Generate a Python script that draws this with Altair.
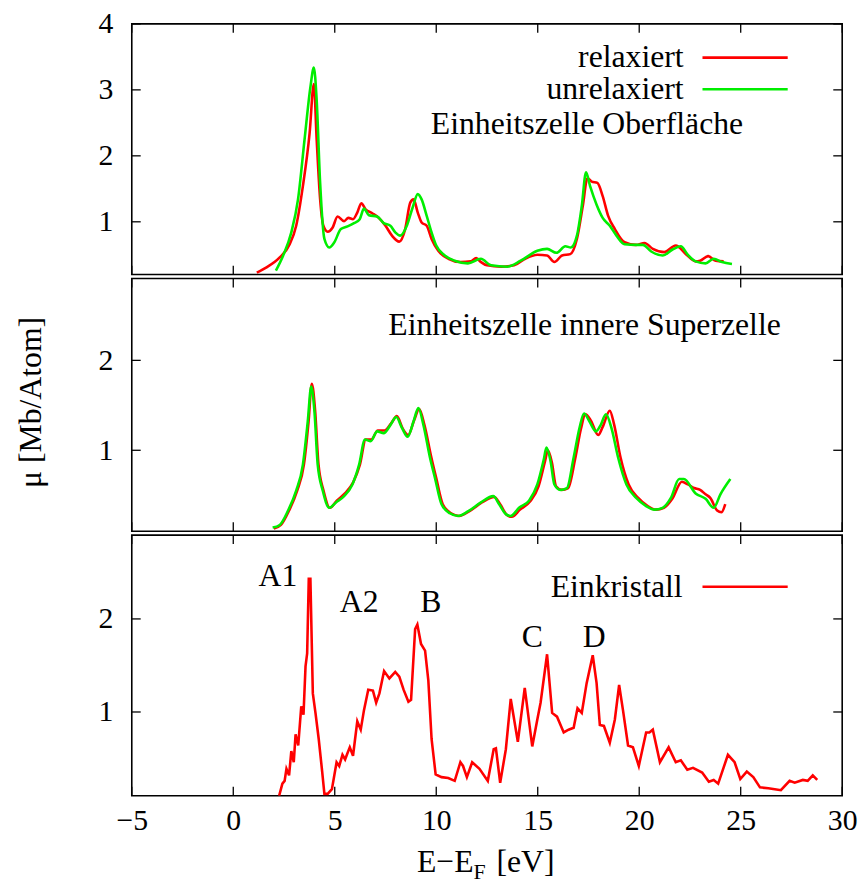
import altair as alt
import pandas as pd

# ---------------- data ----------------
X_TICKS = [-5, 0, 5, 10, 15, 20, 25, 30]
P1_Y_TICKS = [1, 2, 3, 4]
P2_Y_TICKS = [1, 2]
P3_Y_TICKS = [1, 2]

# panel 1: Einheitszelle Oberfläche  (E-E_F [eV], mu)
P1_RELAX = [
    (1.16, 0.23), (1.64, 0.31), (2.29, 0.46), (2.78, 0.66), (3.1, 0.94), (3.43, 1.54),
    (3.76, 2.34), (3.97, 3.09), (4.11, 2.24), (4.28, 1.34), (4.44, 0.94), (4.65, 0.85),
    (4.89, 0.91), (5.14, 1.08), (5.46, 1.01), (5.67, 1.06), (5.9, 1.04), (6.11, 1.14),
    (6.31, 1.28), (6.52, 1.19), (6.85, 1.13), (7.17, 1.06), (7.5, 0.94), (7.82, 0.79),
    (8.18, 0.70), (8.47, 0.89), (8.72, 1.29), (8.88, 1.34), (9.09, 1.14), (9.28, 0.99),
    (9.53, 0.94), (9.77, 0.74), (10.1, 0.56), (10.6, 0.44), (11.2, 0.39), (11.7, 0.40),
    (11.97, 0.45), (12.2, 0.39), (12.5, 0.34), (13.2, 0.32), (13.84, 0.34), (14.33, 0.43),
    (14.98, 0.50), (15.46, 0.49), (15.82, 0.39), (16.2, 0.49), (16.6, 0.51), (16.93, 0.74),
    (17.22, 1.24), (17.45, 1.66), (17.66, 1.61), (17.94, 1.59), (18.2, 1.39), (18.47, 1.09),
    (18.8, 0.89), (19.28, 0.69), (19.85, 0.65), (20.26, 0.68), (20.67, 0.59), (21.23, 0.54),
    (21.8, 0.64), (22.3, 0.51), (22.78, 0.40), (23.0, 0.41), (23.4, 0.48), (23.76, 0.41),
    (24.16, 0.40),
]
P1_UNRELAX = [
    (2.1, 0.26), (2.46, 0.49), (2.86, 0.84), (3.19, 1.34), (3.51, 2.24), (3.8, 3.04),
    (3.97, 3.34), (4.11, 2.84), (4.28, 1.59), (4.49, 0.74), (4.73, 0.61), (4.98, 0.69),
    (5.3, 0.89), (5.63, 0.93), (5.95, 0.98), (6.23, 1.04), (6.44, 1.20), (6.68, 1.10),
    (7.09, 1.08), (7.41, 0.98), (7.74, 0.94), (7.98, 0.84), (8.23, 0.79), (8.55, 0.94),
    (8.83, 1.21), (9.09, 1.42), (9.28, 1.34), (9.53, 1.09), (9.77, 0.84), (10.0, 0.64),
    (10.42, 0.49), (10.91, 0.41), (11.56, 0.37), (12.2, 0.44), (12.7, 0.34), (13.5, 0.32),
    (14.16, 0.41), (14.98, 0.56), (15.46, 0.59), (15.92, 0.53), (16.36, 0.63), (16.63, 0.61),
    (16.93, 0.79), (17.17, 1.24), (17.38, 1.75), (17.58, 1.54), (17.9, 1.26), (18.2, 1.06),
    (18.55, 0.94), (18.88, 0.79), (19.28, 0.66), (19.85, 0.65), (20.18, 0.65), (20.59, 0.55),
    (21.16, 0.49), (21.64, 0.58), (22.05, 0.63), (22.37, 0.51), (22.78, 0.40), (23.27, 0.37),
    (23.67, 0.44), (24.08, 0.39), (24.57, 0.36),
]

# panel 2: Einheitszelle innere Superzelle
P2_RELAX = [
    (2.0, 0.13), (2.35, 0.17), (2.75, 0.33), (3.15, 0.55), (3.48, 0.84), (3.71, 1.32),
    (3.87, 1.74), (4.03, 1.45), (4.2, 0.84), (4.45, 0.55), (4.76, 0.36), (5.1, 0.44),
    (5.5, 0.52), (5.9, 0.64), (6.24, 0.84), (6.53, 1.12), (6.8, 1.12), (7.12, 1.22),
    (7.45, 1.22), (7.78, 1.30), (8.06, 1.38), (8.35, 1.24), (8.62, 1.17), (8.92, 1.34),
    (9.16, 1.46), (9.42, 1.28), (9.74, 0.94), (10.0, 0.69), (10.32, 0.40), (10.73, 0.30),
    (11.13, 0.27), (11.62, 0.32), (12.25, 0.42), (12.86, 0.48), (13.15, 0.40), (13.48, 0.28),
    (13.72, 0.26), (14.13, 0.34), (14.62, 0.43), (15.04, 0.60), (15.36, 0.88), (15.5, 1.00),
    (15.7, 0.86), (15.9, 0.60), (16.18, 0.56), (16.5, 0.58), (16.84, 0.90), (17.13, 1.24),
    (17.35, 1.40), (17.62, 1.33), (17.98, 1.17), (18.2, 1.26), (18.55, 1.44), (18.75, 1.30),
    (19.08, 0.92), (19.48, 0.62), (19.95, 0.47), (20.42, 0.38), (20.82, 0.34), (21.22, 0.36),
    (21.63, 0.46), (22.1, 0.65), (22.4, 0.62), (22.7, 0.58), (23.0, 0.56), (23.27, 0.51),
    (23.5, 0.47), (23.84, 0.33), (24.05, 0.31), (24.24, 0.40),
]
P2_UNRELAX = [
    (1.94, 0.14), (2.29, 0.17), (2.7, 0.33), (3.1, 0.55), (3.43, 0.84), (3.67, 1.32),
    (3.84, 1.71), (4.0, 1.43), (4.16, 0.84), (4.41, 0.55), (4.73, 0.36), (5.06, 0.42),
    (5.46, 0.49), (5.87, 0.62), (6.2, 0.84), (6.49, 1.12), (6.77, 1.10), (7.09, 1.21),
    (7.41, 1.19), (7.74, 1.28), (8.03, 1.37), (8.31, 1.25), (8.59, 1.15), (8.88, 1.32),
    (9.12, 1.47), (9.37, 1.28), (9.69, 0.92), (9.94, 0.69), (10.26, 0.40), (10.67, 0.30),
    (11.07, 0.27), (11.56, 0.32), (12.2, 0.42), (12.81, 0.49), (13.1, 0.40), (13.43, 0.29),
    (13.67, 0.27), (14.08, 0.36), (14.57, 0.44), (14.98, 0.62), (15.3, 0.90), (15.43, 1.03),
    (15.63, 0.88), (15.82, 0.62), (16.11, 0.56), (16.44, 0.58), (16.77, 0.92), (17.06, 1.25),
    (17.28, 1.41), (17.55, 1.32), (17.87, 1.21), (18.1, 1.28), (18.36, 1.40), (18.63, 1.25),
    (18.96, 0.92), (19.37, 0.62), (19.85, 0.47), (20.34, 0.38), (20.75, 0.34), (21.15, 0.36),
    (21.56, 0.47), (21.97, 0.68), (22.2, 0.68), (22.78, 0.52), (23.27, 0.46), (23.67, 0.36),
    (24.0, 0.51), (24.49, 0.68),
]

# panel 3: Einkristall
P3_CRYSTAL = [
    (2.26, 0.10), (2.42, 0.23), (2.53, 0.26), (2.62, 0.39), (2.75, 0.32), (2.86, 0.58),
    (2.98, 0.46), (3.07, 0.76), (3.2, 0.64), (3.35, 1.06), (3.46, 0.97), (3.56, 1.49),
    (3.64, 1.63), (3.72, 2.43), (3.8, 2.43), (3.92, 1.20), (4.05, 0.99), (4.21, 0.71),
    (4.38, 0.36), (4.49, 0.12), (4.65, 0.12), (4.86, 0.17), (5.09, 0.46), (5.22, 0.42),
    (5.38, 0.54), (5.51, 0.49), (5.63, 0.56), (5.74, 0.62), (5.9, 0.53), (6.11, 0.90),
    (6.28, 0.81), (6.44, 1.02), (6.65, 1.24), (6.88, 1.23), (7.04, 1.10), (7.2, 1.20),
    (7.43, 1.44), (7.69, 1.36), (7.98, 1.43), (8.18, 1.38), (8.39, 1.24), (8.63, 1.11),
    (8.76, 1.13), (8.96, 1.89), (9.07, 1.94), (9.25, 1.73), (9.45, 1.66), (9.61, 1.34),
    (9.77, 0.71), (9.97, 0.33), (10.26, 0.30), (10.59, 0.29), (10.91, 0.26), (11.19, 0.46),
    (11.32, 0.42), (11.51, 0.30), (11.77, 0.46), (12.13, 0.39), (12.54, 0.26), (12.83, 0.60),
    (12.94, 0.61), (13.15, 0.24), (13.43, 0.60), (13.67, 1.14), (14.02, 0.68), (14.36, 1.26),
    (14.73, 0.63), (14.98, 0.92), (15.14, 1.10), (15.46, 1.62), (15.71, 0.99), (15.95, 0.95),
    (16.28, 0.78), (16.52, 0.81), (16.77, 0.83), (16.96, 1.04), (17.17, 0.99), (17.41, 1.31),
    (17.71, 1.61), (17.9, 1.31), (18.06, 0.86), (18.26, 0.85), (18.55, 0.67), (18.8, 0.92),
    (19.01, 1.29), (19.2, 1.02), (19.45, 0.64), (19.69, 0.62), (19.98, 0.42), (20.34, 0.78),
    (20.5, 0.78), (20.67, 0.81), (21.02, 0.46), (21.45, 0.62), (21.8, 0.46), (22.05, 0.48),
    (22.37, 0.38), (22.65, 0.40), (23.1, 0.35), (23.43, 0.25), (23.67, 0.27), (23.89, 0.23),
    (24.37, 0.54), (24.7, 0.46), (24.98, 0.28), (25.3, 0.36), (25.62, 0.30), (25.95, 0.19),
    (26.36, 0.18), (26.68, 0.17), (26.98, 0.16), (27.41, 0.26), (27.66, 0.24), (28.06, 0.27),
    (28.3, 0.26), (28.55, 0.32), (28.77, 0.27),
]

# peak labels in panel 3 (label, E, mu)
PEAK_LABELS = ["A1", "A2", "B", "C", "D"]
PEAK_E = [2.2, 6.2, 9.73, 14.73, 17.78]
PEAK_MU = [2.46, 2.18, 2.18, 1.80, 1.80]

# ---------------- layout / style ----------------
FONT = "Liberation Serif"
RED = "#ff0000"
GREEN = "#00ee00"
W = 717
H1, H2, H3 = 253, 255, 263
DOM1, DOM2, DOM3 = [0.2, 4.0], [0.1, 2.91], [0.1, 2.9]
TICK = 9
LW = 2.6
TXT = 32


def to_df(pairs):
    return pd.DataFrame(pairs, columns=["E", "mu"])


def xenc(axis):
    return alt.X("E:Q", scale=alt.Scale(domain=[-5, 30], nice=False, zero=False),
                 axis=axis, title=None)


def yenc(dom, ticks):
    return alt.Y("mu:Q", scale=alt.Scale(domain=dom, nice=False, zero=False),
                 axis=alt.Axis(values=ticks, labelFont=FONT, labelFontSize=30,
                               labelColor="black", labelPadding=19, ticks=False,
                               domain=False, grid=False, labelFlush=False,
                               labelOverlap=False),
                 title=None)


def curve(pairs, color, dom, ticks, xaxis, interp="monotone"):
    return alt.Chart(to_df(pairs)).mark_line(
        color=color, strokeWidth=LW, interpolate=interp, clip=True
    ).encode(x=xenc(xaxis), y=yenc(dom, ticks))


def ticks_layers(dom, yticks, h, xaxis):
    xt = pd.DataFrame({"E": X_TICKS})
    yt = pd.DataFrame({"mu": yticks})
    top = alt.Chart(xt).mark_rule(color="black", strokeWidth=1.3).encode(
        x=xenc(xaxis), y=alt.value(0), y2=alt.value(TICK))
    bot = alt.Chart(xt).mark_rule(color="black", strokeWidth=1.3).encode(
        x=xenc(xaxis), y=alt.value(h), y2=alt.value(h - TICK))
    left = alt.Chart(yt).mark_rule(color="black", strokeWidth=1.3).encode(
        y=yenc(dom, yticks), x=alt.value(0), x2=alt.value(TICK))
    right = alt.Chart(yt).mark_rule(color="black", strokeWidth=1.3).encode(
        y=yenc(dom, yticks), x=alt.value(W - TICK), x2=alt.value(W))
    return [top, bot, left, right]


def label(txt, x, y, align="right", size=TXT, baseline="middle", angle=0):
    kw = dict(align=align, baseline=baseline, font=FONT, fontSize=size, color="black")
    if angle:
        kw["angle"] = angle
    return alt.Chart(pd.DataFrame({"t": [txt]})).mark_text(**kw).encode(
        x=alt.value(x), y=alt.value(y), text="t:N")


def legend_line(color, y):
    return alt.Chart(pd.DataFrame({"t": [0]})).mark_rule(color=color, strokeWidth=LW).encode(
        x=alt.value(576), x2=alt.value(662), y=alt.value(y))


# ---------------- panel 1 ----------------
p1 = alt.layer(
    curve(P1_RELAX, RED, DOM1, P1_Y_TICKS, None),
    curve(P1_UNRELAX, GREEN, DOM1, P1_Y_TICKS, None),
    *ticks_layers(DOM1, P1_Y_TICKS, H1, None),
    label("relaxiert", 557, 34),
    legend_line(RED, 34),
    label("unrelaxiert", 557, 66),
    legend_line(GREEN, 66),
    label("Einheitszelle Oberfläche", 617, 101),
).properties(width=W, height=H1)

# ---------------- panel 2 ----------------
p2 = alt.layer(
    curve(P2_RELAX, RED, DOM2, P2_Y_TICKS, None),
    curve(P2_UNRELAX, GREEN, DOM2, P2_Y_TICKS, None),
    *ticks_layers(DOM2, P2_Y_TICKS, H2, None),
    label("Einheitszelle innere Superzelle", 655, 47),
    label("μ [Mb/Atom]", -102, 125, align="center", angle=270),
).properties(width=W, height=H2)

# ---------------- panel 3 ----------------
xaxis3 = alt.Axis(values=X_TICKS, labelFont=FONT, labelFontSize=30, labelColor="black",
                  labelPadding=10, ticks=False, domain=False, grid=False,
                  labelFlush=False, labelOverlap=False)
peaks = pd.DataFrame({"lab": PEAK_LABELS, "E": PEAK_E, "mu": PEAK_MU})
p3 = alt.layer(
    curve(P3_CRYSTAL, RED, DOM3, P3_Y_TICKS, xaxis3, interp="linear"),
    *ticks_layers(DOM3, P3_Y_TICKS, H3, xaxis3),
    alt.Chart(peaks).mark_text(font=FONT, fontSize=TXT, color="black",
                               align="center", baseline="middle").encode(
        x=xenc(xaxis3), y=yenc(DOM3, P3_Y_TICKS), text="lab:N"),
    label("Einkristall", 556, 52),
    legend_line(RED, 52),
    label("E−E", 345, 340, baseline="alphabetic"),
    label("F", 345, 347, align="left", size=22, baseline="alphabetic"),
    label("[eV]", 368, 340, align="left", baseline="alphabetic"),
).properties(width=W, height=H3)

chart = alt.vconcat(p1, p2, p3, spacing=0).properties(
    padding={"left": 14, "top": 4, "right": 5, "bottom": 2}
).configure_view(stroke="black", strokeWidth=1.6)

chart.save("out.html", embed_options={"renderer": "svg", "actions": False})
